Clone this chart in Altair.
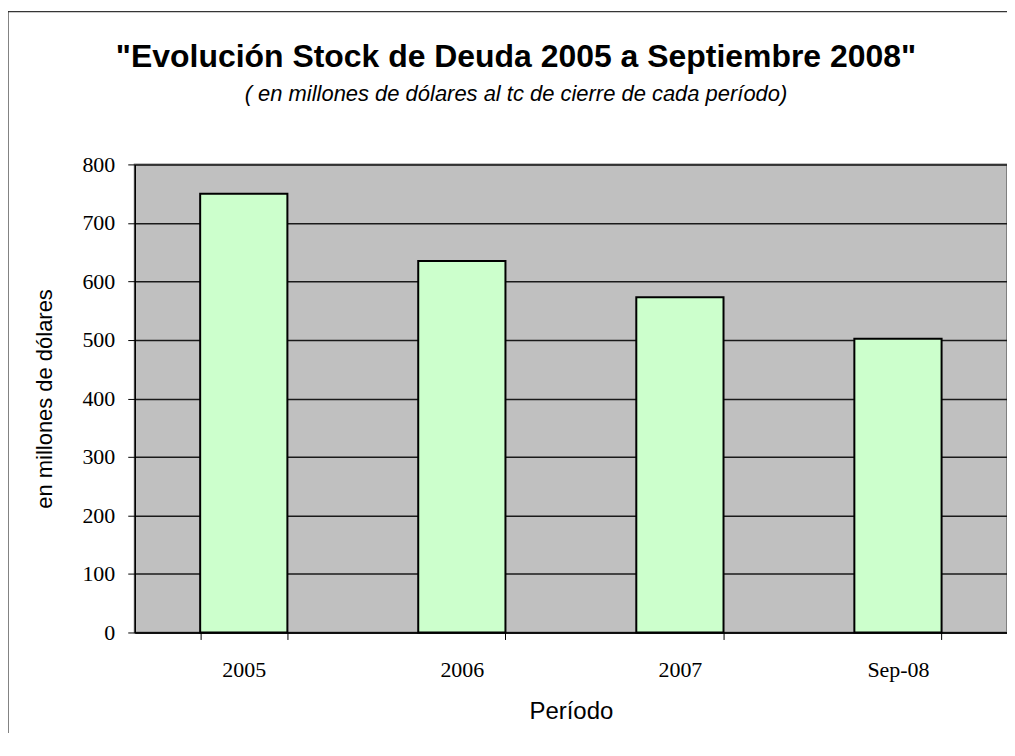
import altair as alt
import pandas as pd

periods = ["2005", "2006", "2007", "Sep-08"]
stock = [750, 635, 573, 502]

title_text = '"Evolución Stock de Deuda 2005 a Septiembre 2008"'
subtitle_text = "( en millones de dólares al tc de cierre de cada período)"

df = pd.DataFrame({"Periodo": periods, "Stock": stock})
one = pd.DataFrame({"t": [title_text], "s": [subtitle_text]})

base = alt.Chart(df)

frame = alt.Chart(one).mark_rect(filled=False, stroke="#000000", strokeWidth=1).encode(
    x=alt.value(-127), x2=alt.value(1000), y=alt.value(-153), y2=alt.value(800)
)

title = alt.Chart(one).mark_text(
    font="Liberation Sans", fontSize=32, fontWeight="bold", color="#000000",
    align="center", baseline="alphabetic"
).encode(text="t:N", x=alt.value(382), y=alt.value(-98))

subtitle = alt.Chart(one).mark_text(
    font="Liberation Sans", fontSize=22, fontStyle="italic", color="#000000",
    align="center", baseline="alphabetic"
).encode(text="s:N", x=alt.value(382), y=alt.value(-64))

bars = base.mark_bar(color="#CCFFCC", stroke="#000000", strokeWidth=2).encode(
    x=alt.X("Periodo:N", sort=None,
            scale=alt.Scale(paddingInner=0.6, paddingOuter=0.3),
            axis=alt.Axis(title="Período", labelAngle=0, tickBand="extent",
                          labelFont="Liberation Serif", labelFontSize=22,
                          labelColor="#000000", labelPadding=20,
                          titleFont="Liberation Sans", titleFontSize=24,
                          titleFontWeight="normal", titleColor="#000000",
                          titlePadding=19, tickSize=7, tickColor="#000000",
                          domainColor="#000000", domainWidth=1.5, grid=False)),
    y=alt.Y("Stock:Q", scale=alt.Scale(domain=[0, 800], nice=False),
            axis=alt.Axis(title="en millones de dólares", values=list(range(0, 801, 100)),
                          labelFont="Liberation Serif", labelFontSize=22,
                          labelColor="#000000", labelPadding=13,
                          titleFont="Liberation Sans", titleFontSize=22,
                          titleFontWeight="normal", titleColor="#000000",
                          titlePadding=25, tickSize=7, tickColor="#000000",
                          domainColor="#000000", domainWidth=1.5,
                          grid=True, gridColor="#1a1a1a", gridWidth=1.5)),
)

chart = alt.layer(frame, bars, title, subtitle).properties(
    width=874, height=469,
    autosize=alt.AutoSizeParams(type="none"),
    padding={"left": 127, "top": 156, "right": 0, "bottom": 100},
    background="#FFFFFF",
).configure_view(
    fill="#C0C0C0", stroke="#808080", strokeWidth=2
)

chart.save("out.html", embed_options={"renderer": "svg", "actions": False})
